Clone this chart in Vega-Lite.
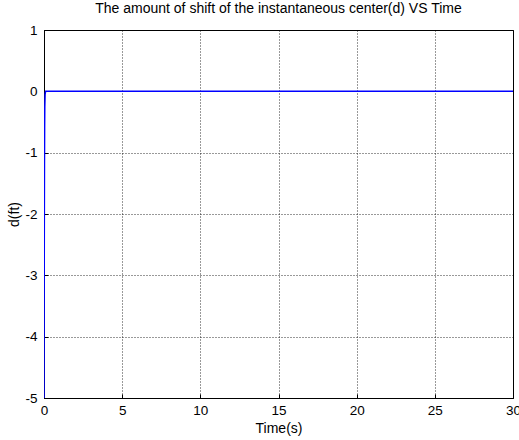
{
  "$schema": "https://vega.github.io/schema/vega-lite/v6.json",
  "autosize": {"type": "none"},
  "padding": {"left": 44, "top": 30, "right": 6, "bottom": 42},
  "width": 469,
  "height": 368,
  "background": "white",
  "title": {"text": "The amount of shift of the instantaneous center(d) VS Time", "font": "Liberation Sans", "fontSize": 14, "fontWeight": "normal", "color": "black", "offset": 7},
  "config": {"view": {"stroke": "black", "strokeWidth": 1}},
  "data": {"values": [
    {"t": 0, "d": -5},
    {"t": 0.01, "d": -3.5},
    {"t": 0.02, "d": -2.2},
    {"t": 0.03, "d": -1.2},
    {"t": 0.04, "d": -0.6},
    {"t": 0.05, "d": -0.25},
    {"t": 0.07, "d": -0.05},
    {"t": 0.1, "d": 0},
    {"t": 30, "d": 0}
  ]},
  "mark": {"type": "line", "color": "#0000ff", "strokeWidth": 1.5, "clip": true},
  "encoding": {
    "x": {"field": "t", "type": "quantitative", "scale": {"domain": [0, 30], "nice": false, "zero": false},
      "axis": {"values": [0, 5, 10, 15, 20, 25, 30], "title": "Time(s)", "titleFont": "Liberation Sans", "titleFontSize": 14, "titleFontWeight": "normal", "titleColor": "black", "titlePadding": 5,
        "labelFont": "Liberation Sans", "labelFontSize": 13.5, "labelColor": "black", "labelPadding": 9, "labelFlush": false,
        "grid": true, "gridColor": "black", "gridDash": [1, 2], "gridOpacity": 0.8,
        "domainColor": "black", "tickColor": "black", "tickSize": -4}},
    "y": {"field": "d", "type": "quantitative", "scale": {"domain": [-5, 1], "nice": false, "zero": false},
      "axis": {"values": [-5, -4, -3, -2, -1, 0, 1], "title": "d(ft)", "titleFont": "Liberation Sans", "titleFontSize": 14, "titleFontWeight": "normal", "titleColor": "black", "titlePadding": 3,
        "labelExpr": "datum.value < 0 ? '-' + abs(datum.value) : '' + datum.value",
        "labelFont": "Liberation Sans", "labelFontSize": 13.5, "labelColor": "black", "labelPadding": 11, "labelFlush": false,
        "grid": true, "gridColor": "black", "gridDash": [1, 2], "gridOpacity": 0.8,
        "domainColor": "black", "tickColor": "black", "tickSize": -4}}
  }
}
